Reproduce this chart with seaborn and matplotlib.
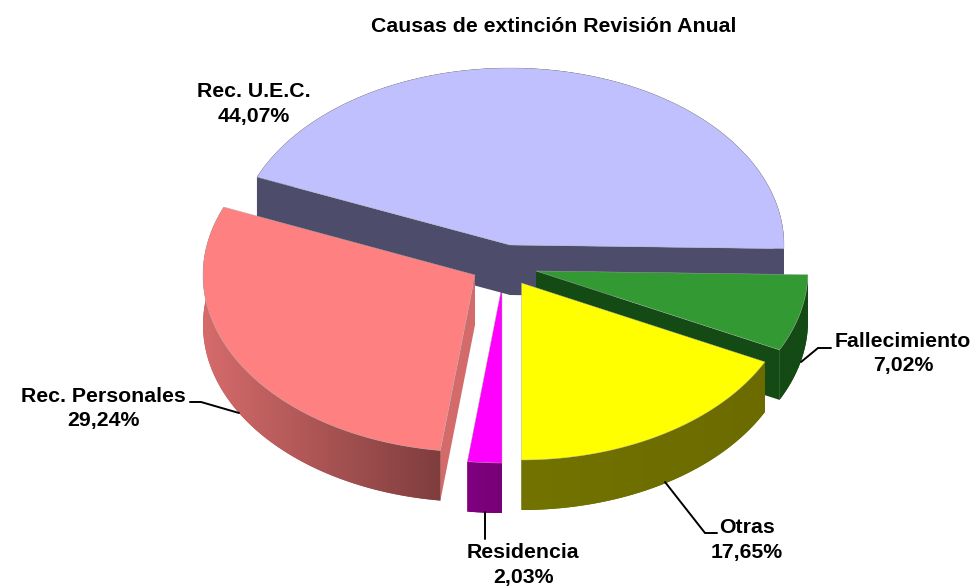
import numpy as np
import matplotlib
matplotlib.use('Agg')
import matplotlib.pyplot as plt
from matplotlib.patches import Polygon
import seaborn as sns

# data
categorias = ['Rec. U.E.C.', 'Rec. Personales', 'Residencia', 'Otras', 'Fallecimiento']
valores = [44.07, 29.24, 2.03, 17.65, 7.02]
titulo = 'Causas de extinción Revisión Anual'

# styles
col_top = ['#C0C0FF', '#FF8080', '#FF00FF', '#FFFF00', '#339933']
col_side = [('#4D4D6B', '#4D4D6B'), ('#D66B6B', '#7F3D3D'), ('#800080', '#760076'),
            ('#737300', '#6B6B00'), ('#144A14', '#144A14')]
col_cut = ['#4D4D6B', '#D46B6B', '#800080', '#6B6B00', '#144A14']

# layout, in pixels of the 976x586 picture
B, DEPTH = 177, 50
ROTACION = -1.2
radio_x = [274, 272, 272, 272, 272]
apex = [(510, 245), (475, 275), (502, 286), (521.5, 283), (536, 271)]
orden = [2, 0, 4, 3, 1]  # back to front
cara_corte = {0: 'both', 1: 'end', 4: 'start'}
label_pos = [(254, 104), (103, 408.5), (523, 565), (747, 540), (903, 353.5)]
leaders = [None,
           ([190, 201, 239], [402, 402, 413]),
           ([485, 485], [512, 539]),
           ([717, 705, 665], [533, 533, 482]),
           ([831, 818, 801], [348, 348, 362])]

sns.set_theme(style='white')
plt.rcParams['font.family'] = ['Liberation Sans', 'DejaVu Sans']

fig = plt.figure(figsize=(9.76, 5.86), dpi=100)
ax = fig.add_axes([0, 0, 1, 1])
ax.axis('off')

ends = np.cumsum(valores) / sum(valores) * 360 + ROTACION
starts = np.r_[ROTACION, ends[:-1]]


def arc(i, t):
    r = np.radians(t)
    return apex[i][0] + radio_x[i] * np.cos(r), apex[i][1] - B * np.sin(r)


def draw_slice(i):
    t0, t1 = starts[i], ends[i]
    cx, cy = apex[i]
    ts = np.linspace(t0, t1, 120)
    xs, ys = arc(i, ts)
    z = orden.index(i) * 10

    # radial cut faces
    for lado, t in (('start', t0), ('end', t1)):
        if cara_corte.get(i) in (lado, 'both'):
            x, y = arc(i, t)
            ax.fill([cx, x, x, cx], [cy, y, y + DEPTH, cy + DEPTH],
                    color=col_cut[i], lw=0, zorder=z + 1)

    # outer side, horizontal gradient clipped to the band under the arc
    cols = sns.blend_palette(col_side[i], 256)
    lado_xy = np.c_[np.r_[xs, xs[::-1]], np.r_[ys, ys[::-1] + DEPTH]]
    ax.fill(lado_xy[:, 0], lado_xy[:, 1], color=cols[128], lw=0, zorder=z + 2)
    im = ax.imshow([cols], extent=(xs.min(), xs.max(), ys.max() + DEPTH, ys.min()),
                   aspect='auto', interpolation='bilinear', zorder=z + 2)
    im.set_clip_path(Polygon(lado_xy, transform=ax.transData))

    # top
    ax.fill(np.r_[cx, xs], np.r_[cy, ys], facecolor=col_top[i], edgecolor='#A8A8A8',
            lw=0.3, zorder=z + 3)


for i in orden:
    draw_slice(i)

for nombre, valor, pos, ld in zip(categorias, valores, label_pos, leaders):
    if ld is not None:
        ax.plot(ld[0], ld[1], color='black', lw=1.4, zorder=100, solid_joinstyle='miter')
    linea2 = f'{valor:.2f}'.replace('.', ',') + '%'
    ax.text(pos[0], pos[1], f'{nombre}\n{linea2}', ha='center', va='center',
            fontsize=15.3, fontweight='bold', color='black', linespacing=1.36, zorder=101)

ax.text(554, 26, titulo, ha='center', va='center', fontsize=15.3, fontweight='bold', color='black')

ax.set_xlim(0, 976)
ax.set_ylim(586, 0)

fig.savefig('out.png', dpi=100)
plt.close(fig)
